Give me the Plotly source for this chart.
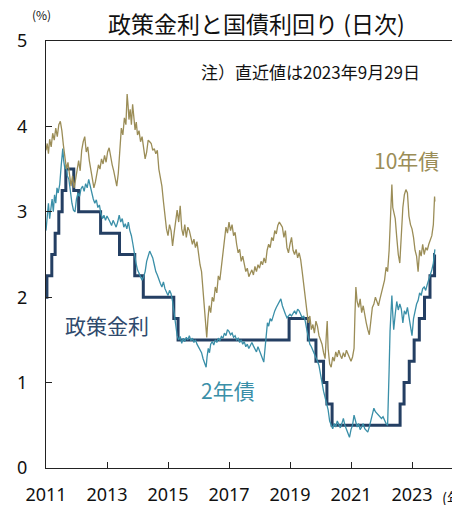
import plotly.graph_objects as go

# ---- data (decimal years) ----
policy_x = [2011.00, 2011.03, 2011.19, 2011.30, 2011.42, 2011.53, 2011.65, 2011.91, 2012.07,
            2012.79, 2013.41, 2013.91, 2014.19, 2015.19, 2015.33, 2018.97, 2019.60, 2019.85,
            2020.10, 2020.21, 2020.38, 2022.61, 2022.74, 2022.91, 2023.07, 2023.24, 2023.41,
            2023.59, 2023.74, 2023.75]
policy_y = [2.00, 2.25, 2.50, 2.75, 3.00, 3.25, 3.50, 3.25, 3.00,
            2.75, 2.50, 2.25, 2.00, 1.75, 1.50, 1.75, 1.50, 1.25,
            1.00, 0.75, 0.50, 0.75, 1.00, 1.25, 1.50, 1.75, 2.00,
            2.25, 2.50, 2.50]

y10_x = [2011.00, 2011.04, 2011.08, 2011.12, 2011.17, 2011.22, 2011.27, 2011.32, 2011.37, 2011.42,
         2011.47, 2011.52, 2011.57, 2011.62, 2011.67, 2011.72, 2011.77, 2011.82, 2011.87, 2011.92,
         2011.97, 2012.02, 2012.07, 2012.12, 2012.17, 2012.22, 2012.27, 2012.32, 2012.37, 2012.42,
         2012.47, 2012.52, 2012.57, 2012.62, 2012.67, 2012.72, 2012.77, 2012.82, 2012.87, 2012.92,
         2012.97, 2013.02, 2013.07, 2013.12, 2013.17, 2013.22, 2013.27, 2013.32, 2013.37, 2013.42,
         2013.47, 2013.52, 2013.57, 2013.62, 2013.66, 2013.69, 2013.72, 2013.76, 2013.80, 2013.84,
         2013.88, 2013.92, 2013.96, 2014.00, 2014.05, 2014.10, 2014.15, 2014.20, 2014.25, 2014.30,
         2014.35, 2014.40, 2014.45, 2014.50, 2014.55, 2014.60, 2014.65, 2014.70, 2014.75, 2014.80,
         2014.85, 2014.90, 2014.95, 2015.00, 2015.05, 2015.10, 2015.15, 2015.20, 2015.25, 2015.30,
         2015.35, 2015.40, 2015.45, 2015.50, 2015.55, 2015.60, 2015.65, 2015.70, 2015.75, 2015.80,
         2015.85, 2015.90, 2015.95, 2016.00, 2016.05, 2016.10, 2016.15, 2016.20, 2016.24, 2016.27,
         2016.31, 2016.35, 2016.40, 2016.45, 2016.50, 2016.55, 2016.60, 2016.65, 2016.70, 2016.75,
         2016.80, 2016.85, 2016.90, 2016.95, 2017.00, 2017.05, 2017.10, 2017.15, 2017.20, 2017.25,
         2017.30, 2017.35, 2017.40, 2017.45, 2017.50, 2017.55, 2017.60, 2017.65, 2017.70, 2017.75,
         2017.80, 2017.85, 2017.90, 2017.95, 2018.00, 2018.05, 2018.10, 2018.15, 2018.20, 2018.25,
         2018.30, 2018.35, 2018.40, 2018.45, 2018.50, 2018.55, 2018.60, 2018.65, 2018.70, 2018.75,
         2018.80, 2018.85, 2018.90, 2018.95, 2019.00, 2019.05, 2019.10, 2019.15, 2019.20, 2019.25,
         2019.30, 2019.35, 2019.40, 2019.45, 2019.50, 2019.55, 2019.60, 2019.65, 2019.70, 2019.75,
         2019.80, 2019.85, 2019.90, 2019.95, 2020.00, 2020.05, 2020.10, 2020.15, 2020.19, 2020.22,
         2020.25, 2020.30, 2020.35, 2020.40, 2020.45, 2020.50, 2020.55, 2020.60, 2020.65, 2020.70,
         2020.75, 2020.80, 2020.85, 2020.90, 2020.95, 2021.00, 2021.05, 2021.10, 2021.13, 2021.16,
         2021.20, 2021.25, 2021.30, 2021.35, 2021.40, 2021.45, 2021.50, 2021.55, 2021.60, 2021.65,
         2021.70, 2021.75, 2021.80, 2021.85, 2021.90, 2021.95, 2022.00, 2022.05, 2022.10, 2022.15,
         2022.20, 2022.25, 2022.28, 2022.31, 2022.34, 2022.37, 2022.40, 2022.45, 2022.50, 2022.55,
         2022.60, 2022.65, 2022.70, 2022.75, 2022.80, 2022.85, 2022.90, 2022.95, 2023.00, 2023.05,
         2023.10, 2023.15, 2023.20, 2023.25, 2023.30, 2023.35, 2023.40, 2023.45, 2023.50, 2023.55,
         2023.60, 2023.65, 2023.70, 2023.72, 2023.74, 2023.75]
y10_y = [3.72, 3.80, 3.68, 3.85, 3.76, 3.92, 3.84, 3.98, 3.88, 4.02,
         4.06, 3.95, 3.78, 3.62, 3.50, 3.58, 3.40, 3.30, 3.42, 3.28,
         3.38, 3.52, 3.60, 3.48, 3.72, 3.82, 3.88, 3.70, 3.76, 3.60,
         3.48, 3.40, 3.28, 3.35, 3.48, 3.55, 3.50, 3.62, 3.56, 3.66,
         3.58, 3.70, 3.75, 3.62, 3.55, 3.48, 3.38, 3.30, 3.45, 3.72,
         3.98, 3.90, 4.10, 4.02, 4.38, 4.25, 4.08, 4.20, 4.02, 4.26,
         4.12, 3.96, 4.05, 3.90, 3.95, 3.82, 3.88, 3.74, 3.62, 3.70,
         3.84, 3.82, 3.80, 3.72, 3.74, 3.68, 3.72, 3.50, 3.38, 3.30,
         3.12, 2.95, 2.80, 2.72, 2.85, 2.78, 2.60, 2.75, 2.90, 3.02,
         2.88, 3.07, 2.80, 2.72, 2.85, 2.70, 2.82, 2.78, 2.70, 2.62,
         2.68, 2.58, 2.65, 2.50, 2.38, 2.30, 2.05, 1.85, 1.70, 1.53,
         1.75, 1.90, 1.82, 2.00, 1.95, 2.12, 2.05, 2.25, 2.20, 2.35,
         2.50, 2.70, 2.82, 2.75, 2.88, 2.78, 2.85, 2.72, 2.76, 2.62,
         2.52, 2.56, 2.42, 2.48, 2.38, 2.30, 2.34, 2.24, 2.28, 2.32,
         2.26, 2.36, 2.30, 2.38, 2.34, 2.42, 2.38, 2.46, 2.40, 2.55,
         2.62, 2.58, 2.70, 2.66, 2.78, 2.74, 2.84, 2.88, 2.85, 2.82,
         2.70, 2.78, 2.58, 2.52, 2.62, 2.70, 2.55, 2.50, 2.56, 2.46,
         2.52, 2.44, 2.30, 2.15, 2.00, 1.85, 1.70, 1.78, 1.62, 1.68,
         1.58, 1.72, 1.66, 1.55, 1.50, 1.45, 1.35, 1.28, 1.55, 1.72,
         1.40, 1.22, 1.18, 1.30, 1.25, 1.36, 1.30, 1.38, 1.32, 1.28,
         1.35, 1.30, 1.38, 1.34, 1.30, 1.25, 1.30, 1.40, 1.80, 2.12,
         1.95, 1.88, 1.98, 1.82, 1.90, 1.78, 1.70, 1.62, 1.56, 1.72,
         1.88, 1.92, 2.00, 1.95, 1.90, 1.98, 2.05, 2.12, 2.20, 2.35,
         2.30, 2.55, 2.78, 3.05, 3.32, 3.05, 3.00, 2.92, 2.70, 2.50,
         2.40, 2.80, 3.05, 3.20, 3.26, 3.22, 2.95, 2.85, 2.80, 2.70,
         2.55, 2.48, 2.30, 2.55, 2.48, 2.62, 2.50, 2.58, 2.55, 2.62,
         2.66, 2.72, 2.85, 3.00, 3.18, 3.12]

y2_x = [2011.00, 2011.04, 2011.08, 2011.12, 2011.16, 2011.20, 2011.24, 2011.28, 2011.32, 2011.36,
        2011.40, 2011.45, 2011.50, 2011.55, 2011.58, 2011.62, 2011.66, 2011.70, 2011.75, 2011.80,
        2011.85, 2011.90, 2011.95, 2012.00, 2012.05, 2012.10, 2012.15, 2012.20, 2012.25, 2012.30,
        2012.35, 2012.40, 2012.45, 2012.50, 2012.55, 2012.60, 2012.65, 2012.70, 2012.75, 2012.80,
        2012.85, 2012.90, 2012.95, 2013.00, 2013.05, 2013.10, 2013.15, 2013.20, 2013.25, 2013.30,
        2013.35, 2013.40, 2013.45, 2013.50, 2013.55, 2013.60, 2013.65, 2013.70, 2013.75, 2013.80,
        2013.85, 2013.90, 2013.95, 2014.00, 2014.05, 2014.10, 2014.15, 2014.20, 2014.25, 2014.30,
        2014.35, 2014.40, 2014.45, 2014.50, 2014.55, 2014.60, 2014.65, 2014.70, 2014.75, 2014.80,
        2014.85, 2014.90, 2014.95, 2015.00, 2015.05, 2015.10, 2015.15, 2015.20, 2015.25, 2015.30,
        2015.35, 2015.40, 2015.45, 2015.50, 2015.55, 2015.60, 2015.65, 2015.70, 2015.75, 2015.80,
        2015.85, 2015.90, 2015.95, 2016.00, 2016.05, 2016.10, 2016.15, 2016.20, 2016.25, 2016.28,
        2016.32, 2016.36, 2016.40, 2016.45, 2016.50, 2016.55, 2016.60, 2016.65, 2016.70, 2016.75,
        2016.80, 2016.85, 2016.90, 2016.95, 2017.00, 2017.05, 2017.10, 2017.15, 2017.20, 2017.25,
        2017.30, 2017.35, 2017.40, 2017.45, 2017.50, 2017.55, 2017.60, 2017.65, 2017.70, 2017.75,
        2017.80, 2017.85, 2017.90, 2017.95, 2018.00, 2018.05, 2018.10, 2018.14, 2018.18, 2018.22,
        2018.26, 2018.30, 2018.35, 2018.40, 2018.45, 2018.50, 2018.55, 2018.60, 2018.65, 2018.70,
        2018.75, 2018.80, 2018.85, 2018.90, 2018.95, 2019.00, 2019.05, 2019.10, 2019.15, 2019.20,
        2019.25, 2019.30, 2019.35, 2019.40, 2019.45, 2019.50, 2019.55, 2019.60, 2019.65, 2019.70,
        2019.75, 2019.80, 2019.85, 2019.90, 2019.95, 2020.00, 2020.05, 2020.10, 2020.15, 2020.20,
        2020.25, 2020.30, 2020.35, 2020.40, 2020.45, 2020.50, 2020.55, 2020.60, 2020.65, 2020.70,
        2020.75, 2020.80, 2020.85, 2020.90, 2020.95, 2021.00, 2021.05, 2021.10, 2021.15, 2021.20,
        2021.25, 2021.30, 2021.35, 2021.40, 2021.45, 2021.50, 2021.55, 2021.60, 2021.65, 2021.70,
        2021.75, 2021.80, 2021.85, 2021.90, 2021.95, 2022.00, 2022.05, 2022.10, 2022.15, 2022.20,
        2022.22, 2022.25, 2022.28, 2022.31, 2022.34, 2022.37, 2022.40, 2022.45, 2022.50, 2022.55,
        2022.60, 2022.65, 2022.70, 2022.75, 2022.80, 2022.85, 2022.90, 2022.95, 2023.00, 2023.05,
        2023.10, 2023.15, 2023.20, 2023.25, 2023.30, 2023.35, 2023.40, 2023.45, 2023.50, 2023.55,
        2023.60, 2023.65, 2023.70, 2023.75]
y2_y = [2.78, 2.95, 3.10, 2.92, 3.05, 3.15, 3.00, 3.20, 3.10, 3.28,
        3.22, 3.32, 3.55, 3.74, 3.60, 3.50, 3.55, 3.42, 3.38, 3.22,
        3.10, 3.02, 3.00, 3.15, 3.22, 3.18, 3.27, 3.30, 3.24, 3.33,
        3.28, 3.38, 3.30, 3.20, 3.15, 3.10, 3.14, 3.05, 3.08, 2.98,
        2.92, 2.96, 2.90, 2.95, 2.92, 2.88, 2.84, 2.90, 2.86, 2.82,
        2.88, 2.96, 2.88, 2.92, 2.82, 2.86, 2.80, 2.88, 2.78, 2.72,
        2.62, 2.48, 2.40, 2.32, 2.28, 2.25, 2.20, 2.24, 2.30, 2.42,
        2.50, 2.54, 2.50, 2.46, 2.38, 2.30, 2.26, 2.20, 2.16, 2.12,
        2.18, 2.10, 2.06, 2.02, 2.08, 2.04, 1.95, 1.82, 1.68, 1.55,
        1.50, 1.54, 1.46, 1.52, 1.48, 1.53, 1.50, 1.55, 1.49, 1.52,
        1.47, 1.50, 1.45, 1.42, 1.38, 1.35, 1.28, 1.22, 1.18, 1.30,
        1.40, 1.35, 1.45, 1.48, 1.44, 1.50, 1.47, 1.52, 1.49, 1.54,
        1.52, 1.58, 1.55, 1.62, 1.60, 1.56, 1.58, 1.53, 1.55, 1.50,
        1.52, 1.47, 1.50, 1.45, 1.48, 1.42, 1.45, 1.40, 1.44, 1.47,
        1.43, 1.40, 1.36, 1.42, 1.38, 1.32, 1.28, 1.24, 1.40, 1.55,
        1.70, 1.66, 1.75, 1.72, 1.80, 1.84, 1.88, 1.92, 1.96, 1.98,
        1.90, 1.84, 1.80, 1.76, 1.78, 1.80, 1.78, 1.82, 1.84, 1.80,
        1.86, 1.84, 1.80, 1.76, 1.78, 1.72, 1.62, 1.52, 1.45, 1.42,
        1.38, 1.35, 1.30, 1.25, 1.20, 1.12, 1.00, 0.90, 0.82, 0.72,
        0.68, 0.55, 0.50, 0.46, 0.52, 0.48, 0.55, 0.50, 0.47, 0.52,
        0.58, 0.50, 0.45, 0.40, 0.36, 0.45, 0.50, 0.62, 0.55, 0.48,
        0.52, 0.45, 0.48, 0.52, 0.46, 0.44, 0.42, 0.48, 0.55, 0.62,
        0.70, 0.66, 0.64, 0.62, 0.60, 0.58, 0.60, 0.55, 0.52, 0.50,
        0.90, 1.15, 1.60, 1.95, 2.02, 1.80, 1.62, 1.80, 1.95, 1.85,
        1.92, 1.86, 1.70, 1.84, 1.80, 1.88, 1.75, 1.65, 1.55, 1.75,
        1.85, 1.92, 1.96, 2.05, 2.02, 2.10, 2.12, 2.08, 2.15, 2.20,
        2.25, 2.32, 2.40, 2.56]

x_ticks = [2011, 2013, 2015, 2017, 2019, 2021, 2023]
x_tick_labels = ["2011", "2013", "2015", "2017", "2019", "2021", "2023"]
y_ticks = [0, 1, 2, 3, 4, 5]

C10 = "#9b8d57"
C2 = "#3a8fa8"
CP = "#243f63"
FONT = "Noto Sans CJK JP"

# page body adds an 8px offset; lay the figure out in window coordinates
OFF = 8
W, H = 460, 505
PL, PR, PT, PB = 46, 460, 41, 468   # plot area in window pixels

fig = go.Figure()
fig.add_trace(go.Scatter(x=policy_x, y=policy_y, mode="lines", line_shape="hv",
                         line=dict(color=CP, width=3), showlegend=False, hoverinfo="skip"))
fig.add_trace(go.Scatter(x=y2_x, y=y2_y, mode="lines",
                         line=dict(color=C2, width=1.3), showlegend=False, hoverinfo="skip"))
fig.add_trace(go.Scatter(x=y10_x, y=y10_y, mode="lines",
                         line=dict(color=C10, width=1.3), showlegend=False, hoverinfo="skip"))

fig.update_layout(
    width=W, height=H,
    margin=dict(l=PL - OFF, r=W - (PR - OFF), t=PT - OFF, b=H - (PB - OFF), autoexpand=False),
    paper_bgcolor="white", plot_bgcolor="white",
    font=dict(family=FONT, color="#111111"),
    xaxis=dict(range=[2011, 2011 + (PR - PL) / 30.5], tickvals=x_ticks, ticktext=x_tick_labels,
               ticks="inside", ticklen=6, tickcolor="#222222", showgrid=False, zeroline=False,
               showline=True, linecolor="#222222", linewidth=1.2, mirror=True,
               tickfont=dict(size=18, family="Noto Sans"), ticklabelstandoff=10),
    yaxis=dict(range=[0, 5], tickvals=y_ticks, ticks="inside", ticklen=6, tickcolor="#222222",
               showgrid=False, zeroline=False, showline=True, linecolor="#222222", linewidth=1.2,
               tickfont=dict(size=18, family="Noto Sans"), ticklabelstandoff=14),
)


def px(xw):
    return (xw - PL) / (PR - PL)


def py(yw):
    return (PB - yw) / (PB - PT)


anns = [
    dict(text="政策金利と国債利回り (日次)", x=256, y=23, size=23, color="#111111"),
    dict(text="(%)", x=41, y=15, size=12, color="#111111"),
    dict(text="注）直近値は2023年9月29日", x=310, y=72, size=17, color="#111111"),
    dict(text="10年債", x=406, y=160, size=21, color=C10),
    dict(text="政策金利", x=107, y=325, size=21, color="#2f4a6d"),
    dict(text="2年債", x=228, y=390, size=21, color=C2),
]
for a in anns:
    fig.add_annotation(text=a["text"], xref="paper", yref="paper",
                       x=px(a["x"]), y=py(a["y"]),
                       xanchor="center", yanchor="middle", showarrow=False,
                       font=dict(size=a["size"], color=a["color"], family=FONT))
fig.add_annotation(text="(年)", xref="paper", yref="paper", x=px(440),
                   y=py(497), xanchor="left", yanchor="middle",
                   showarrow=False, font=dict(size=15, color="#111111", family=FONT))

fig.write_html("out.html")
